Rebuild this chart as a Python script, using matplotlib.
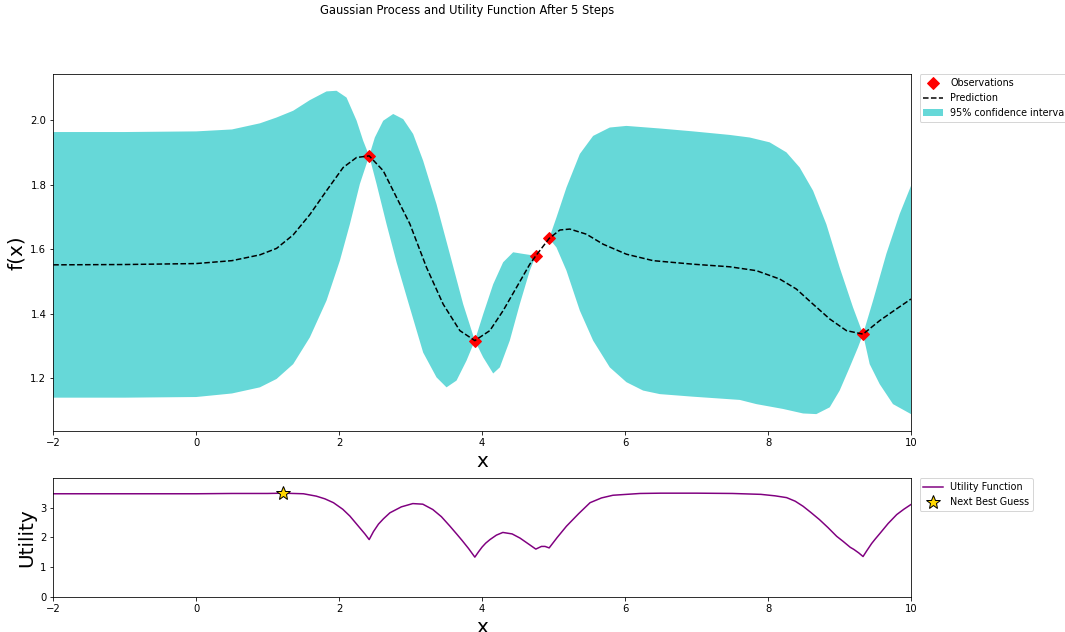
import numpy as np
import matplotlib
matplotlib.use("Agg")
import matplotlib.pyplot as plt

# observations (x, f(x))
obs_x = [2.42, 3.898, 4.751, 4.938, 9.329]
obs_y = [1.890, 1.317, 1.580, 1.634, 1.337]

# GP mean
mu_x = [-2, -1, 0, 0.5, 0.891, 1.124, 1.357, 1.59, 1.823, 2.056, 2.243, 2.42,
        2.616, 2.803, 2.989, 3.222, 3.455, 3.688, 3.898, 4.108, 4.294, 4.481,
        4.667, 4.751, 4.938, 5.087, 5.227, 5.46, 5.693, 6.019, 6.392, 6.952,
        7.464, 7.837, 8.163, 8.396, 8.63, 8.863, 9.096, 9.329, 9.562, 9.795, 10]
mu = [1.552, 1.553, 1.556, 1.565, 1.583, 1.603, 1.645, 1.708, 1.782, 1.854,
      1.885, 1.890, 1.844, 1.761, 1.679, 1.544, 1.430, 1.348, 1.317, 1.348,
      1.410, 1.482, 1.554, 1.580, 1.634, 1.660, 1.663, 1.647, 1.616, 1.585,
      1.565, 1.554, 1.546, 1.534, 1.508, 1.477, 1.430, 1.384, 1.348, 1.337,
      1.379, 1.415, 1.446]

# upper edge of the 95% band
up_x = [-2, -1, 0, 0.5, 0.891, 1.124, 1.357, 1.59, 1.823, 1.963, 2.103, 2.243,
        2.336, 2.42, 2.499, 2.616, 2.756, 2.896, 3.035, 3.175, 3.362, 3.548,
        3.735, 3.898, 4.015, 4.155, 4.294, 4.434, 4.574, 4.751, 4.938, 5.04,
        5.18, 5.367, 5.553, 5.786, 6.019, 6.486, 6.952, 7.464, 7.744, 8.023,
        8.257, 8.443, 8.63, 8.816, 9.002, 9.189, 9.329, 9.469, 9.655, 9.842, 10]
up = [1.964, 1.964, 1.966, 1.972, 1.991, 2.009, 2.030, 2.063, 2.090, 2.092,
      2.071, 2.000, 1.937, 1.890, 1.947, 1.999, 2.020, 2.004, 1.958, 1.875,
      1.740, 1.586, 1.430, 1.317, 1.399, 1.492, 1.560, 1.591, 1.586, 1.580,
      1.634, 1.699, 1.792, 1.896, 1.952, 1.978, 1.983, 1.975, 1.966, 1.955,
      1.947, 1.932, 1.901, 1.854, 1.782, 1.678, 1.544, 1.420, 1.337, 1.441,
      1.586, 1.710, 1.797]

# lower edge of the 95% band
lo_x = [-2, -1, 0, 0.5, 0.891, 1.124, 1.357, 1.59, 1.823, 2.01, 2.15, 2.29,
        2.42, 2.523, 2.663, 2.803, 2.96, 3.175, 3.362, 3.502, 3.642, 3.782,
        3.898, 4.015, 4.155, 4.248, 4.387, 4.527, 4.667, 4.751, 4.938, 5.04,
        5.18, 5.367, 5.553, 5.786, 6.019, 6.253, 6.486, 6.952, 7.605, 7.837,
        8.21, 8.49, 8.676, 8.863, 9.002, 9.142, 9.259, 9.329, 9.422, 9.562,
        9.748, 10]
lo = [1.140, 1.140, 1.142, 1.153, 1.172, 1.198, 1.244, 1.327, 1.441, 1.565,
      1.678, 1.803, 1.890, 1.803, 1.678, 1.560, 1.441, 1.280, 1.203, 1.172,
      1.193, 1.255, 1.317, 1.265, 1.215, 1.234, 1.317, 1.430, 1.534, 1.580,
      1.634, 1.606, 1.534, 1.410, 1.317, 1.234, 1.188, 1.162, 1.151, 1.143,
      1.133, 1.120, 1.105, 1.091, 1.089, 1.110, 1.162, 1.234, 1.296, 1.337,
      1.244, 1.182, 1.120, 1.089]

# utility (acquisition) curve
u_x = [-2, -1, 0, 0.5, 1.0, 1.217, 1.5, 1.68, 1.8, 1.92, 2.05, 2.15, 2.29,
       2.36, 2.42, 2.48, 2.55, 2.62, 2.71, 2.87, 3.03, 3.17, 3.31, 3.43,
       3.55, 3.65, 3.72, 3.81, 3.898, 3.95, 4.0, 4.05, 4.11, 4.2, 4.29, 4.42,
       4.53, 4.65, 4.751, 4.83, 4.88, 4.938, 5.05, 5.18, 5.35, 5.51, 5.67,
       5.83, 6.21, 6.5, 7.0, 7.5, 7.9, 8.1, 8.26, 8.38, 8.49, 8.6, 8.72,
       8.84, 8.96, 9.05, 9.15, 9.2, 9.27, 9.329, 9.38, 9.45, 9.5, 9.57,
       9.68, 9.80, 9.9, 10]
util = [3.47, 3.47, 3.47, 3.48, 3.48, 3.49, 3.47, 3.39, 3.30, 3.17, 2.95,
        2.72, 2.32, 2.12, 1.93, 2.20, 2.45, 2.63, 2.83, 3.03, 3.14, 3.12,
        2.94, 2.70, 2.38, 2.10, 1.90, 1.63, 1.34, 1.52, 1.68, 1.81, 1.93,
        2.08, 2.17, 2.12, 1.98, 1.78, 1.61, 1.70, 1.70, 1.65, 2.00, 2.38,
        2.80, 3.17, 3.33, 3.42, 3.48, 3.49, 3.49, 3.48, 3.45, 3.40, 3.34,
        3.22, 3.05, 2.84, 2.60, 2.33, 2.04, 1.87, 1.67, 1.60, 1.48, 1.36,
        1.55, 1.80, 1.95, 2.15, 2.47, 2.77, 2.95, 3.11]

best_x = 1.217
best_u = 3.49
steps = len(obs_x)

fig = plt.figure(figsize=(1065 / 72, 632 / 72), dpi=72)
fig.suptitle('Gaussian Process and Utility Function After {} Steps'.format(steps),
             x=0.439, y=0.993, fontsize=11.5)

axis = fig.add_axes([0.050, 0.3185, 0.8054, 0.5639])
acq = fig.add_axes([0.050, 0.0554, 0.8054, 0.1878])

axis.plot(obs_x, obs_y, 'D', markersize=8, label=u'Observations', color='r')
axis.plot(mu_x, mu, '--', color='k', label='Prediction')
axis.fill(np.concatenate([lo_x, up_x[::-1]]), np.concatenate([lo, up[::-1]]),
          alpha=.6, fc='c', ec='None', label='95% confidence interval')
axis.set_xlim((-2, 10))
axis.set_ylim((1.0375, 2.143))
axis.set_ylabel('f(x)', fontdict={'size': 20})
axis.set_xlabel('x', fontdict={'size': 20})

acq.plot(u_x, util, label='Utility Function', color='purple')
acq.plot(best_x, best_u, '*', markersize=15, label=u'Next Best Guess',
         markerfacecolor='gold', markeredgecolor='k', markeredgewidth=1)
acq.set_xlim((-2, 10))
acq.set_ylim((0, best_u + 0.5))
acq.set_ylabel('Utility', fontdict={'size': 20})
acq.set_xlabel('x', fontdict={'size': 20})

axis.legend(loc=2, bbox_to_anchor=(1.01, 1), borderaxespad=0., fontsize=9.6)
acq.legend(loc=2, bbox_to_anchor=(1.01, 1), borderaxespad=0., fontsize=9.6)

fig.savefig("out.png", dpi=72)
